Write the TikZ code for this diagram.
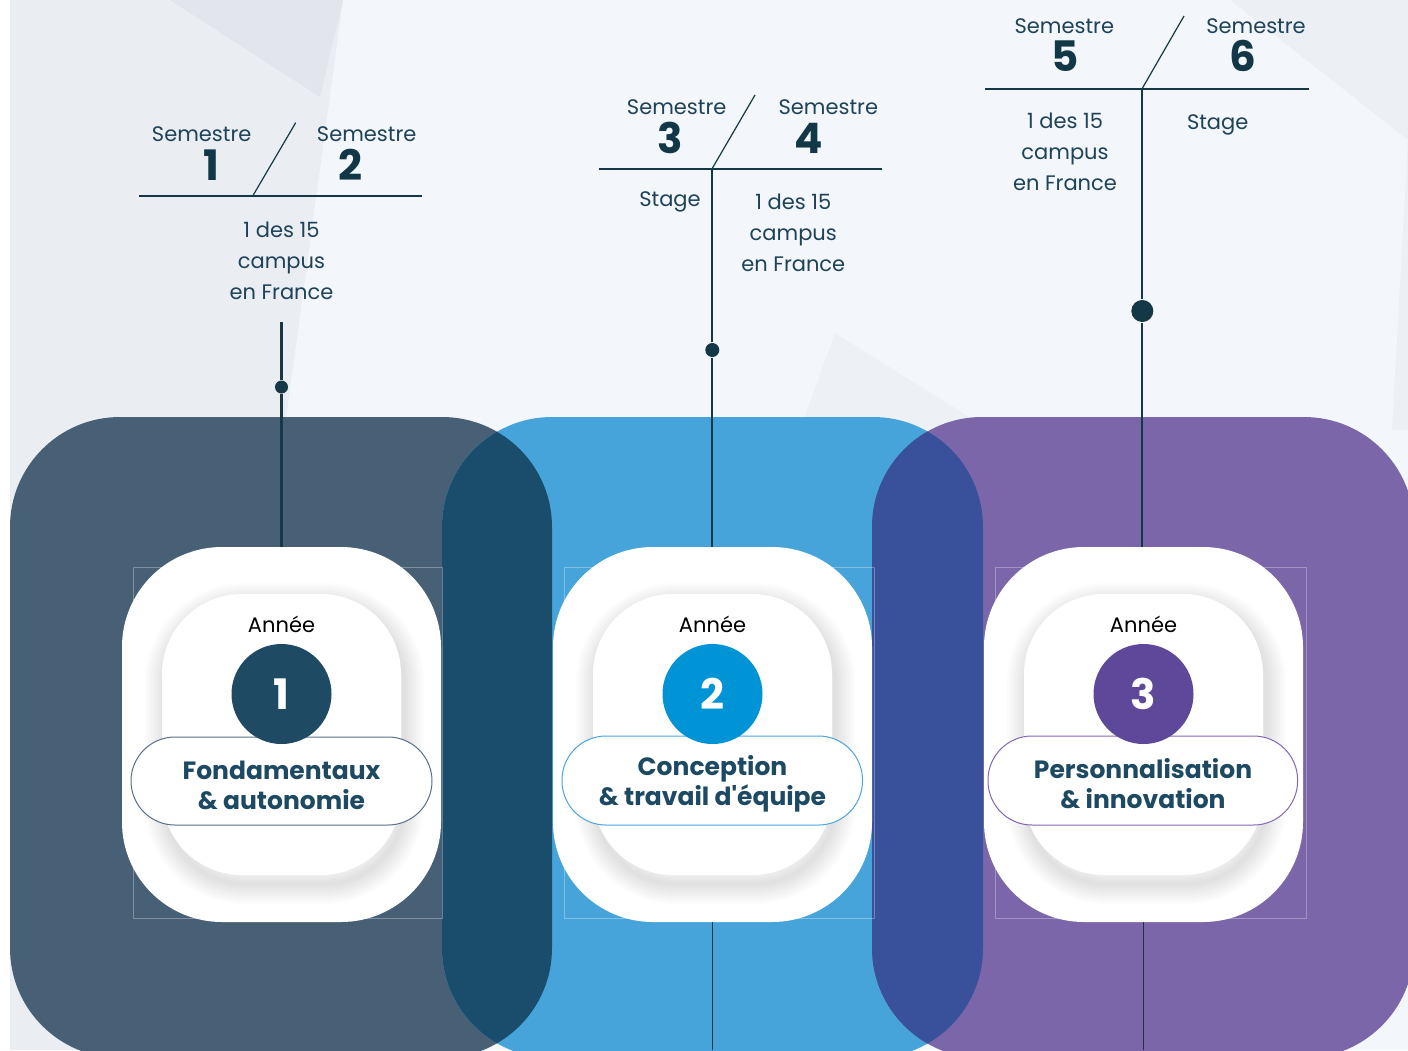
\documentclass[tikz,border=0pt]{standalone}
\usepackage{fontspec}
\setmainfont{Poppins}
\newfontfamily\pillfont{Poppins}
\tikzset{
    every picture/.style={
        line width=1.3pt
    },
    % Styles for the semester headers
    sem label/.style={
        font=\fontsize{21}{24}\selectfont,
        text=inkText, inner sep=0pt, anchor=base
    },
    sem number/.style={
        font=\fontsize{42}{42}\selectfont\bfseries,
        text=inkNum, inner sep=0pt, anchor=base
    },
    place label/.style={
        font=\fontsize{21}{31}\selectfont,
        text=inkText, align=center, inner sep=0pt
    },
    rule line/.style={draw=inkLine, line width=2pt},
    slash line/.style={draw=inkLine, line width=1.2pt},
    stem line/.style={draw=inkLine, line width=2.2pt},
    stem dot/.style={circle, fill=inkLine, inner sep=0pt},
    % Styles for the year cards
    frame line/.style={draw=white, opacity=0.3, line width=0.8pt},
    card glow/.style={black, opacity=0.011, rounded corners=80pt},
    year word/.style={
        font=\fontsize{21}{24}\selectfont,
        text=black, inner sep=0pt
    },
    year disc/.style={
        circle, minimum size=100pt, inner sep=0pt, text=white,
        font=\fontsize{42}{42}\selectfont\bfseries
    },
    year pill/.style={
        fill=white, rounded corners=44pt, line width=1pt
    },
    pill label/.style={
        align=center, inner sep=0pt, text=inkPill,
        font=\pillfont\fontsize{25}{30}\selectfont\bfseries
    }
}
\definecolor{pageBack}{RGB}{243,246,250}
\definecolor{pageShade}{RGB}{234,237,242}
\definecolor{pageShadeDeep}{RGB}{226,230,236}
\definecolor{slateArea}{RGB}{71,96,118}
\definecolor{blueArea}{RGB}{71,164,219}
\definecolor{purpleArea}{RGB}{122,102,168}
\definecolor{slateBlueArea}{RGB}{26,76,108}
\definecolor{bluePurpleArea}{RGB}{57,80,155}
\definecolor{yearOne}{RGB}{31,74,99}
\definecolor{yearTwo}{RGB}{0,147,213}
\definecolor{yearThree}{RGB}{94,72,153}
\definecolor{slateEdge}{RGB}{90,111,136}
\definecolor{blueEdge}{RGB}{74,165,224}
\definecolor{purpleEdge}{RGB}{132,102,184}
\definecolor{inkText}{RGB}{30,66,88}
\definecolor{inkNum}{RGB}{18,56,72}
\definecolor{inkLine}{RGB}{20,56,70}
\definecolor{inkPill}{RGB}{29,74,98}

\begin{document}
\begin{tikzpicture}[x=1pt,y=-1pt]

% Set the canvas size
\path[use as bounding box] (0,0) rectangle (1408,1050);

% Page background with faint facets
\fill[white] (0,0) rectangle (1408,1050);
\fill[pageBack] (10,0) rectangle (1408,1050);
\fill[pageShade] (10,0) -- (343,0) -- (200,1050) -- (10,1050) -- cycle;
\fill[pageShadeDeep] (170,0) -- (343,0) -- (320,97) -- cycle;
\fill[pageShade, opacity=0.6] (835,333) -- (990,430) -- (800,430) -- cycle;
\fill[pageShade, opacity=0.7] (1230,0) -- (1408,0) -- (1408,140) -- cycle;
\fill[pageShade, opacity=0.7] (1408,140) -- (1392,430) -- (1408,430) -- cycle;

% Three large year areas
\fill[slateArea, rounded corners=110pt] (10,417) rectangle (552,1058);
\fill[blueArea, rounded corners=110pt] (442,417) rectangle (983,1058);
\fill[purpleArea, rounded corners=110pt] (872,417) rectangle (1414,1058);

% Overlaps of the areas
\begin{scope}
  \clip[rounded corners=110pt] (10,417) rectangle (552,1058);
  \fill[slateBlueArea, rounded corners=110pt] (442,417) rectangle (983,1058);
\end{scope}
\begin{scope}
  \clip[rounded corners=110pt] (442,417) rectangle (983,1058);
  \fill[bluePurpleArea, rounded corners=110pt] (872,417) rectangle (1414,1058);
\end{scope}

% Semester header, year 1
\node[sem label] (semA) at (201.7,141.7) {Semestre};
\node[sem label] (semB) at (366.7,141.7) {Semestre};
\node[sem number] (numA) at (211.7,180) {1};
\node[sem number] (numB) at (350,180) {2};
\coordinate (ruleAl) at (139,196);
\coordinate (ruleAr) at (421.7,196);
\coordinate (slashAb) at (253.3,195);
\coordinate (slashAt) at (295.7,122.7);
\draw[rule line] (ruleAl) -- (ruleAr);
\draw[slash line] (slashAb) -- (slashAt);
\node[place label] (campusA) at (281.5,261) {1 des 15\\campus\\en France};

% Semester header, year 2
\node[sem label] (semC) at (676.7,114) {Semestre};
\node[sem label] (semD) at (828.3,114) {Semestre};
\node[sem number] (numC) at (670,153) {3};
\node[sem number] (numD) at (808.3,153) {4};
\coordinate (ruleBl) at (599.3,169);
\coordinate (ruleBr) at (881.7,169);
\coordinate (slashBb) at (712.3,168.3);
\coordinate (slashBt) at (755,95);
\draw[rule line] (ruleBl) -- (ruleBr);
\draw[slash line] (slashBb) -- (slashBt);
\node[place label] (stageB) at (670,202) {Stage};
\node[place label] (campusB) at (793.3,233) {1 des 15\\campus\\en France};

% Semester header, year 3
\node[sem label] (semE) at (1064.3,33.3) {Semestre};
\node[sem label] (semF) at (1256,33.3) {Semestre};
\node[sem number] (numE) at (1065,71.7) {5};
\node[sem number] (numF) at (1243.3,71.7) {6};
\coordinate (ruleCl) at (985,89);
\coordinate (ruleCr) at (1309,89);
\coordinate (slashCb) at (1142.3,88.3);
\coordinate (slashCt) at (1184,16);
\draw[rule line] (ruleCl) -- (ruleCr);
\draw[slash line] (slashCb) -- (slashCt);
\node[place label] (campusC) at (1065,152) {1 des 15\\campus\\en France};
\node[place label] (stageC) at (1217.7,125) {Stage};

% Stems from the headers down to the cards
\coordinate (stemTopA) at (281.5,322);
\coordinate (cardTopA) at (281.5,547);
\coordinate (cardTopB) at (712.3,547);
\coordinate (cardTopC) at (1142.3,547);
\node[stem dot, minimum size=13pt] (dotA) at (281.5,387) {};
\node[stem dot, minimum size=14pt] (dotB) at (712.3,350) {};
\node[stem dot, minimum size=22pt] (dotC) at (1142.3,311) {};
\draw[stem line] (stemTopA) -- (dotA) -- (cardTopA);
\draw[stem line] (slashBb) -- (dotB) -- (cardTopB);
\draw[stem line] (slashCb) -- (dotC) -- (cardTopC);

% Year 1 card
\draw[frame line] (133,567) rectangle (442,918);
\fill[white, rounded corners=100pt] (122,547) rectangle (441,922);
\foreach \w in {4,8,...,40}
  \draw[card glow, line width=\w pt] (165,603) rectangle (404,884);
\fill[white, rounded corners=80pt] (162,594) rectangle (401,875);
\node[year word] (wordA) at (281.5,624) {Année};
\draw[year pill, draw=slateEdge] (131,737) rectangle (432,825);
\node[pill label] (labelA) at (281.5,785) {Fondamentaux\\\& autonomie};
\node[year disc, fill=yearOne] (discA) at (281.5,694) {1};

% Year 2 card
\draw[frame line] (564,567) rectangle (874,918);
\fill[white, rounded corners=100pt] (553,547) rectangle (872,922);
\foreach \w in {4,8,...,40}
  \draw[card glow, line width=\w pt] (596,603) rectangle (835,884);
\fill[white, rounded corners=80pt] (593,594) rectangle (832,875);
\node[year word] (wordB) at (712.5,624) {Année};
\draw[year pill, draw=blueEdge] (562,736) rectangle (862.5,825);
\node[pill label] (labelB) at (712.5,784) {Conception\\\& travail d'équipe};
\node[year disc, fill=yearTwo] (discB) at (712.5,694) {2};

% Year 3 card
\draw[frame line] (995,567) rectangle (1306,918);
\fill[white, rounded corners=100pt] (984,547) rectangle (1303,922);
\foreach \w in {4,8,...,40}
  \draw[card glow, line width=\w pt] (1027,603) rectangle (1266,884);
\fill[white, rounded corners=80pt] (1024,594) rectangle (1263,875);
\node[year word] (wordC) at (1143.5,624) {Année};
\draw[year pill, draw=purpleEdge] (988,736) rectangle (1297.6,825);
\node[pill label] (labelC) at (1143,784) {Personnalisation\\\& innovation};
\node[year disc, fill=yearThree] (discC) at (1143.5,694) {3};

% Stems below the cards
\coordinate (cardBotB) at (712.3,922);
\coordinate (pageEndB) at (712.3,1050);
\coordinate (cardBotC) at (1143.3,922);
\coordinate (pageEndC) at (1143.3,1050);
\draw[draw=inkLine, line width=1.5pt] (cardBotB) -- (pageEndB);
\draw[draw=inkLine, line width=1.5pt] (cardBotC) -- (pageEndC);

\end{tikzpicture}
\end{document}
